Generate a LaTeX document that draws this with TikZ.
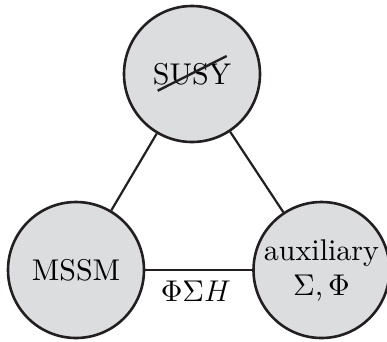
\RequirePackage{fix-cm}
\documentclass[tikz,border=0pt]{standalone}
\usepackage{fontspec}
\setmainfont{lmroman10-regular}[Extension=.otf]
\usetikzlibrary{calc}
\definecolor{ballfill}{RGB}{220,221,223}
\definecolor{inkline}{RGB}{35,31,32}
\tikzset{
  ball/.style={circle, draw=inkline, line width=2.6pt, fill=ballfill, minimum size=136pt, inner sep=0pt, align=center, font=\fontsize{30}{35}\selectfont},
  link/.style={draw=inkline, line width=2.2pt},
  lbl/.style={font=\fontsize{30}{34}\selectfont, inner sep=0pt}
}
\begin{document}
\begin{tikzpicture}[x=1pt,y=-1pt]
\useasboundingbox (0,0) rectangle (387,341);
\node[ball] (susy) at (192,74) {SUSY};
\node[ball] (mssm) at (76,270) {MSSM};
\node[ball] (aux) at (321.5,270) {auxiliary\\Σ,\,Φ};
\draw[link] (susy) -- (mssm);
\draw[link] (susy) -- (aux);
\draw[link] (mssm) -- node[lbl, below=10pt, xshift=-3pt] (phs) {ΦΣ$H$} (aux);
\coordinate (s1) at ($(susy)+(-34.3,16.7)$);
\coordinate (s2) at ($(susy)+(34.7,-18)$);
\draw[link, line width=2.4pt] (s1) -- (s2);
\end{tikzpicture}
\end{document}
